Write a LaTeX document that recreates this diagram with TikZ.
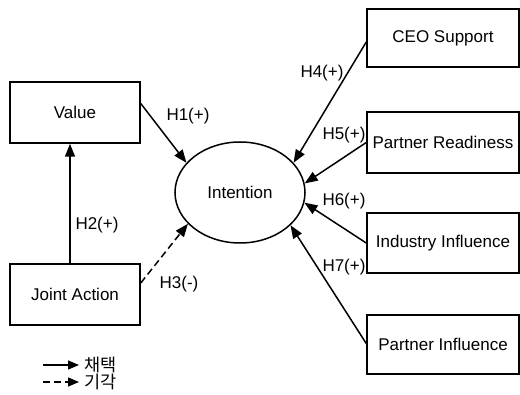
\documentclass[tikz,border=0pt]{standalone}
\usepackage{fontspec}
\setmainfont{Liberation Sans}
\newfontfamily\krfont{Noto Sans CJK KR}
\usetikzlibrary{arrows.meta,shapes.geometric}
\begin{document}
\begin{tikzpicture}[x=1pt,y=-1pt,
  txt/.style={font=\fontsize{17}{19}\selectfont},
  box/.style={draw, line width=1.5pt, minimum width=130pt, minimum height=61pt, inner sep=0pt, txt},
  rbox/.style={draw, line width=1.5pt, minimum width=152pt, minimum height=58pt, inner sep=0pt, txt},
  hyp/.style={txt, inner sep=0pt},
  link/.style={line width=1.5pt, -{Triangle[length=13pt,width=10pt]}},
  rejected/.style={link, dash pattern=on 7pt off 4pt},
  legarrow/.style={line width=1.5pt, -{Triangle[length=11pt,width=9pt]}},
  legtext/.style={font=\krfont\fontsize{17.5}{19}\selectfont, inner sep=0pt, anchor=west}]
\useasboundingbox (0,0) rectangle (520,395);

% constructs
\node[box] (val) at (75,112.5) {Value};
\node[box] (ja) at (75,294.5) {Joint Action};
\node[draw, ellipse, line width=1.5pt, minimum width=130pt, minimum height=101pt, inner sep=0pt, txt]
  (int) at (240,192.5) {Intention};
\node[rbox] (ceo) at (443,38) {CEO Support};
\node[rbox, minimum height=61pt] (pr) at (443,142.5) {Partner Readiness};
\node[rbox, minimum height=60pt] (ii) at (443,243) {Industry Influence};
\node[rbox, minimum height=59pt] (pi) at (443,344.5) {Partner Influence};

% hypothesised paths
\draw[link] ([yshift=9pt]val.east) -- (int.151);
\draw[link] ([xshift=-5pt]ja.north) -- ([xshift=-5pt]val.south);
\draw[rejected] ([yshift=11.5pt]ja.east) -- (int.211);
\draw[link] ([yshift=-4pt]ceo.west) -- (int.29);
\draw[link] (pr.west) -- (int.8);
\draw[link] (ii.west) -- (int.-9);
\draw[link] ([yshift=1pt]pi.west) -- (int.-33);

% path labels
\node[hyp] (h1) at (188,116) {H1(+)};
\node[hyp] (h2) at (97,225) {H2(+)};
\node[hyp] (h3) at (179,284) {H3(-)};
\node[hyp] (h4) at (322,73) {H4(+)};
\node[hyp] (h5) at (344,135) {H5(+)};
\node[hyp] (h6) at (344,201) {H6(+)};
\node[hyp] (h7) at (344,267) {H7(+)};

% legend
\coordinate (l1a) at (43,365);
\coordinate (l1b) at (79,365);
\coordinate (l2a) at (43,382);
\coordinate (l2b) at (79,382);
\draw[legarrow] (l1a) -- (l1b);
\draw[legarrow, dash pattern=on 7pt off 4pt] (l2a) -- (l2b);
\node[legtext] (adopt) at (84,365) {채택};
\node[legtext] (reject) at (84,382) {기각};
\end{tikzpicture}
\end{document}
